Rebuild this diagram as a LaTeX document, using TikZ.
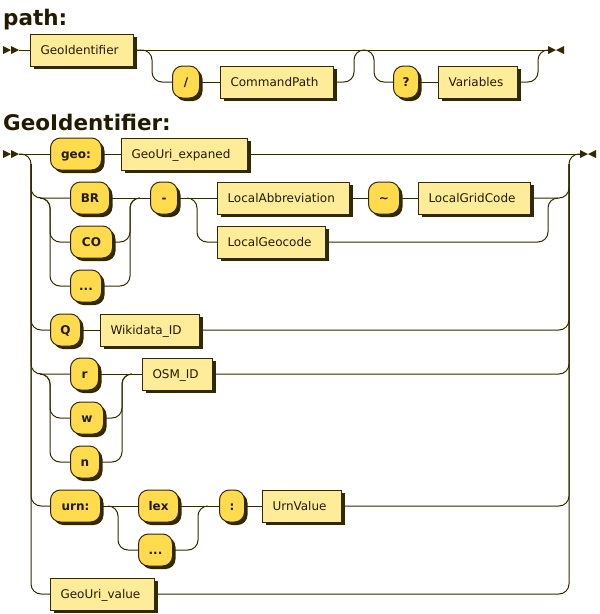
\documentclass[tikz,border=0pt]{standalone}
\usepackage{fontspec}
\setmainfont{DejaVu Sans}
\usetikzlibrary{shadows}
\definecolor{linec}{HTML}{332900}
\definecolor{termc}{HTML}{FFDB4D}
\definecolor{ntermc}{HTML}{FFEC99}
\definecolor{textc}{HTML}{221B00}

\begin{document}
\begin{tikzpicture}[x=1pt, y=-1pt]

    % Define the styles for the nodes
    \tikzstyle{box} = [rectangle, draw=linec, line width=1pt, text=textc, anchor=west, minimum height=32pt, inner sep=0pt, text height=8.8pt, text depth=0pt, font=\fontsize{12}{14}\selectfont, general shadow={fill=linec, shadow xshift=3pt, shadow yshift=-3pt}]
    \tikzstyle{term} = [box, fill=termc, rounded corners=10pt, font=\fontsize{12}{14}\selectfont\bfseries]
    \tikzstyle{nonterm} = [box, fill=ntermc, inner xsep=10pt, align=left]
    \tikzstyle{rail} = [draw=linec, line width=1pt, rounded corners=10pt]
    \tikzstyle{title} = [anchor=base west, inner sep=0pt, text=textc, font=\fontsize{21.5}{26}\selectfont\bfseries]

    \useasboundingbox (0,0) rectangle (600,614);

    % Titles
    \node[title] (ptitle) at (3,25) {path:};
    \node[title] (gtitle) at (3,130) {GeoIdentifier:};

    % Rail ends
    \coordinate (pstart) at (19,50);
    \coordinate (pend) at (548,50);
    \coordinate (gstart) at (19,154);
    \coordinate (gend) at (580,154);
    \coordinate (lrail) at (31,164);
    \coordinate (rrail) at (569,164);
    \coordinate (rtop) at (569,154);
    \foreach \s in {pstart,gstart} {
        \fill[linec] (\s) -- ++(-8,-4) -- ++(0,8) -- cycle;
        \fill[linec] (\s) ++(-8,0) -- ++(-8,-4) -- ++(0,8) -- cycle;
    }
    \foreach \e in {pend,gend} {
        \fill[linec] (\e) ++(0,-4) -- ++(8,4) -- ++(-8,4) -- cycle;
        \fill[linec] (\e) ++(16,-4) -- ++(-8,4) -- ++(8,4) -- cycle;
    }

    % Nodes: path
    \node (gi) [nonterm, text width=83pt] at (30,50) {GeoIdentifier};
    \node (slash) [term, minimum width=27pt] at (172,82) {/};
    \node (cp) [nonterm, text width=93pt] at (220,82) {CommandPath};
    \node (qm) [term, minimum width=25pt] at (393,82) {?};
    \node (var) [nonterm, text width=59pt] at (438,82) {Variables};

    % Nodes: GeoIdentifier
    \node (geo) [term, minimum width=51pt] at (50,154) {geo:};
    \node (gue) [nonterm, text width=106pt] at (121,154) {GeoUri\_expaned};
    \node (br) [term, minimum width=39pt] at (70,198) {BR};
    \node (co) [term, minimum width=42pt] at (70,242) {CO};
    \node (dots1) [term, minimum width=31pt] at (70,286) {...};
    \node (dash) [term, minimum width=27pt] at (150,198) {-};
    \node (labbr) [nonterm, text width=112pt] at (217,198) {LocalAbbreviation};
    \node (tilde) [term, minimum width=31pt] at (368,198) {\textasciitilde};
    \node (lgc) [nonterm, text width=92pt] at (418,198) {LocalGridCode};
    \node (lgeo) [nonterm, text width=88pt] at (217,242) {LocalGeocode};
    \node (q) [term, minimum width=30pt] at (50,330) {Q};
    \node (wd) [nonterm, text width=79pt] at (100,330) {Wikidata\_ID};
    \node (r) [term, minimum width=28pt] at (70,374) {r};
    \node (w) [term, minimum width=33pt] at (70,418) {w};
    \node (n) [term, minimum width=29pt] at (70,462) {n};
    \node (osm) [nonterm, text width=50pt] at (142,374) {OSM\_ID};
    \node (urn) [term, minimum width=50pt] at (50,506) {urn:};
    \node (lex) [term, minimum width=40pt] at (138,506) {lex};
    \node (dots2) [term, minimum width=34pt] at (138,550) {...};
    \node (colon) [term, minimum width=25pt] at (219,506) {:};
    \node (uv) [nonterm, text width=59pt] at (262,506) {UrnValue};
    \node (guv) [nonterm, text width=84pt] at (50,594) {GeoUri\_value};

    % Rails: path
    \draw[rail] (pstart) -- (gi.west);
    \draw[rail] (gi.east) -- (pend);
    \draw[rail] (gi.east) -- ++(18,0) |- (slash.west);
    \draw[rail] (slash.east) -- (cp.west);
    \draw[rail] (cp.east) -| ++(20,-32) -- ++(20,0) |- (qm.west);
    \draw[rail] (qm.east) -- (var.west);
    \draw[rail] (var.east) -| ++(20,-32) -- (pend);

    % Rails: GeoIdentifier
    \coordinate (bsplit) at (40,198);
    \coordinate (bjoin) at (130,198);
    \coordinate (dsplit) at (187,198);
    \coordinate (ljoin) at (548,198);
    \coordinate (rsplit) at (40,374);
    \coordinate (rjoin) at (122,374);
    \coordinate (usplit) at (108,506);
    \coordinate (ujoin) at (198,506);

    \draw[rail] (gstart) -- (geo.west);
    \draw[rail] (geo.east) -- (gue.west);
    \draw[rail] (gue.east) -- (gend);
    \draw[rail] (gstart) -- ++(12,0) |- (guv.west);
    \draw[rail] (guv.east) -| (rtop) -- (gend);

    \draw[rail] (lrail) |- (br.west);
    \draw[rail] (bsplit) -- ++(10,0) |- (co.west);
    \draw[rail] (bsplit) -- ++(10,0) |- (dots1.west);
    \draw[rail] (br.east) -- (dash.west);
    \draw[rail] (co.east) -| (bjoin) -- ++(10,0);
    \draw[rail] (dots1.east) -| (bjoin) -- ++(10,0);
    \draw[rail] (dash.east) -- (labbr.west);
    \draw[rail] (dsplit) -- ++(10,0) |- (lgeo.west);
    \draw[rail] (labbr.east) -- (tilde.west);
    \draw[rail] (tilde.east) -- (lgc.west);
    \draw[rail] (lgc.east) -| (rrail);
    \draw[rail] (lgeo.east) -| (ljoin) -- ++(10,0);

    \draw[rail] (lrail) |- (q.west);
    \draw[rail] (q.east) -- (wd.west);
    \draw[rail] (wd.east) -| (rrail);

    \draw[rail] (lrail) |- (r.west);
    \draw[rail] (rsplit) -- ++(10,0) |- (w.west);
    \draw[rail] (rsplit) -- ++(10,0) |- (n.west);
    \draw[rail] (r.east) -- (osm.west);
    \draw[rail] (w.east) -| (rjoin) -- ++(10,0);
    \draw[rail] (n.east) -| (rjoin) -- ++(10,0);
    \draw[rail] (osm.east) -| (rrail);

    \draw[rail] (lrail) |- (urn.west);
    \draw[rail] (urn.east) -- (lex.west);
    \draw[rail] (usplit) -- ++(10,0) |- (dots2.west);
    \draw[rail] (lex.east) -- (colon.west);
    \draw[rail] (dots2.east) -| (ujoin) -- ++(10,0);
    \draw[rail] (colon.east) -- (uv.west);
    \draw[rail] (uv.east) -| (rrail);

\end{tikzpicture}
\end{document}
